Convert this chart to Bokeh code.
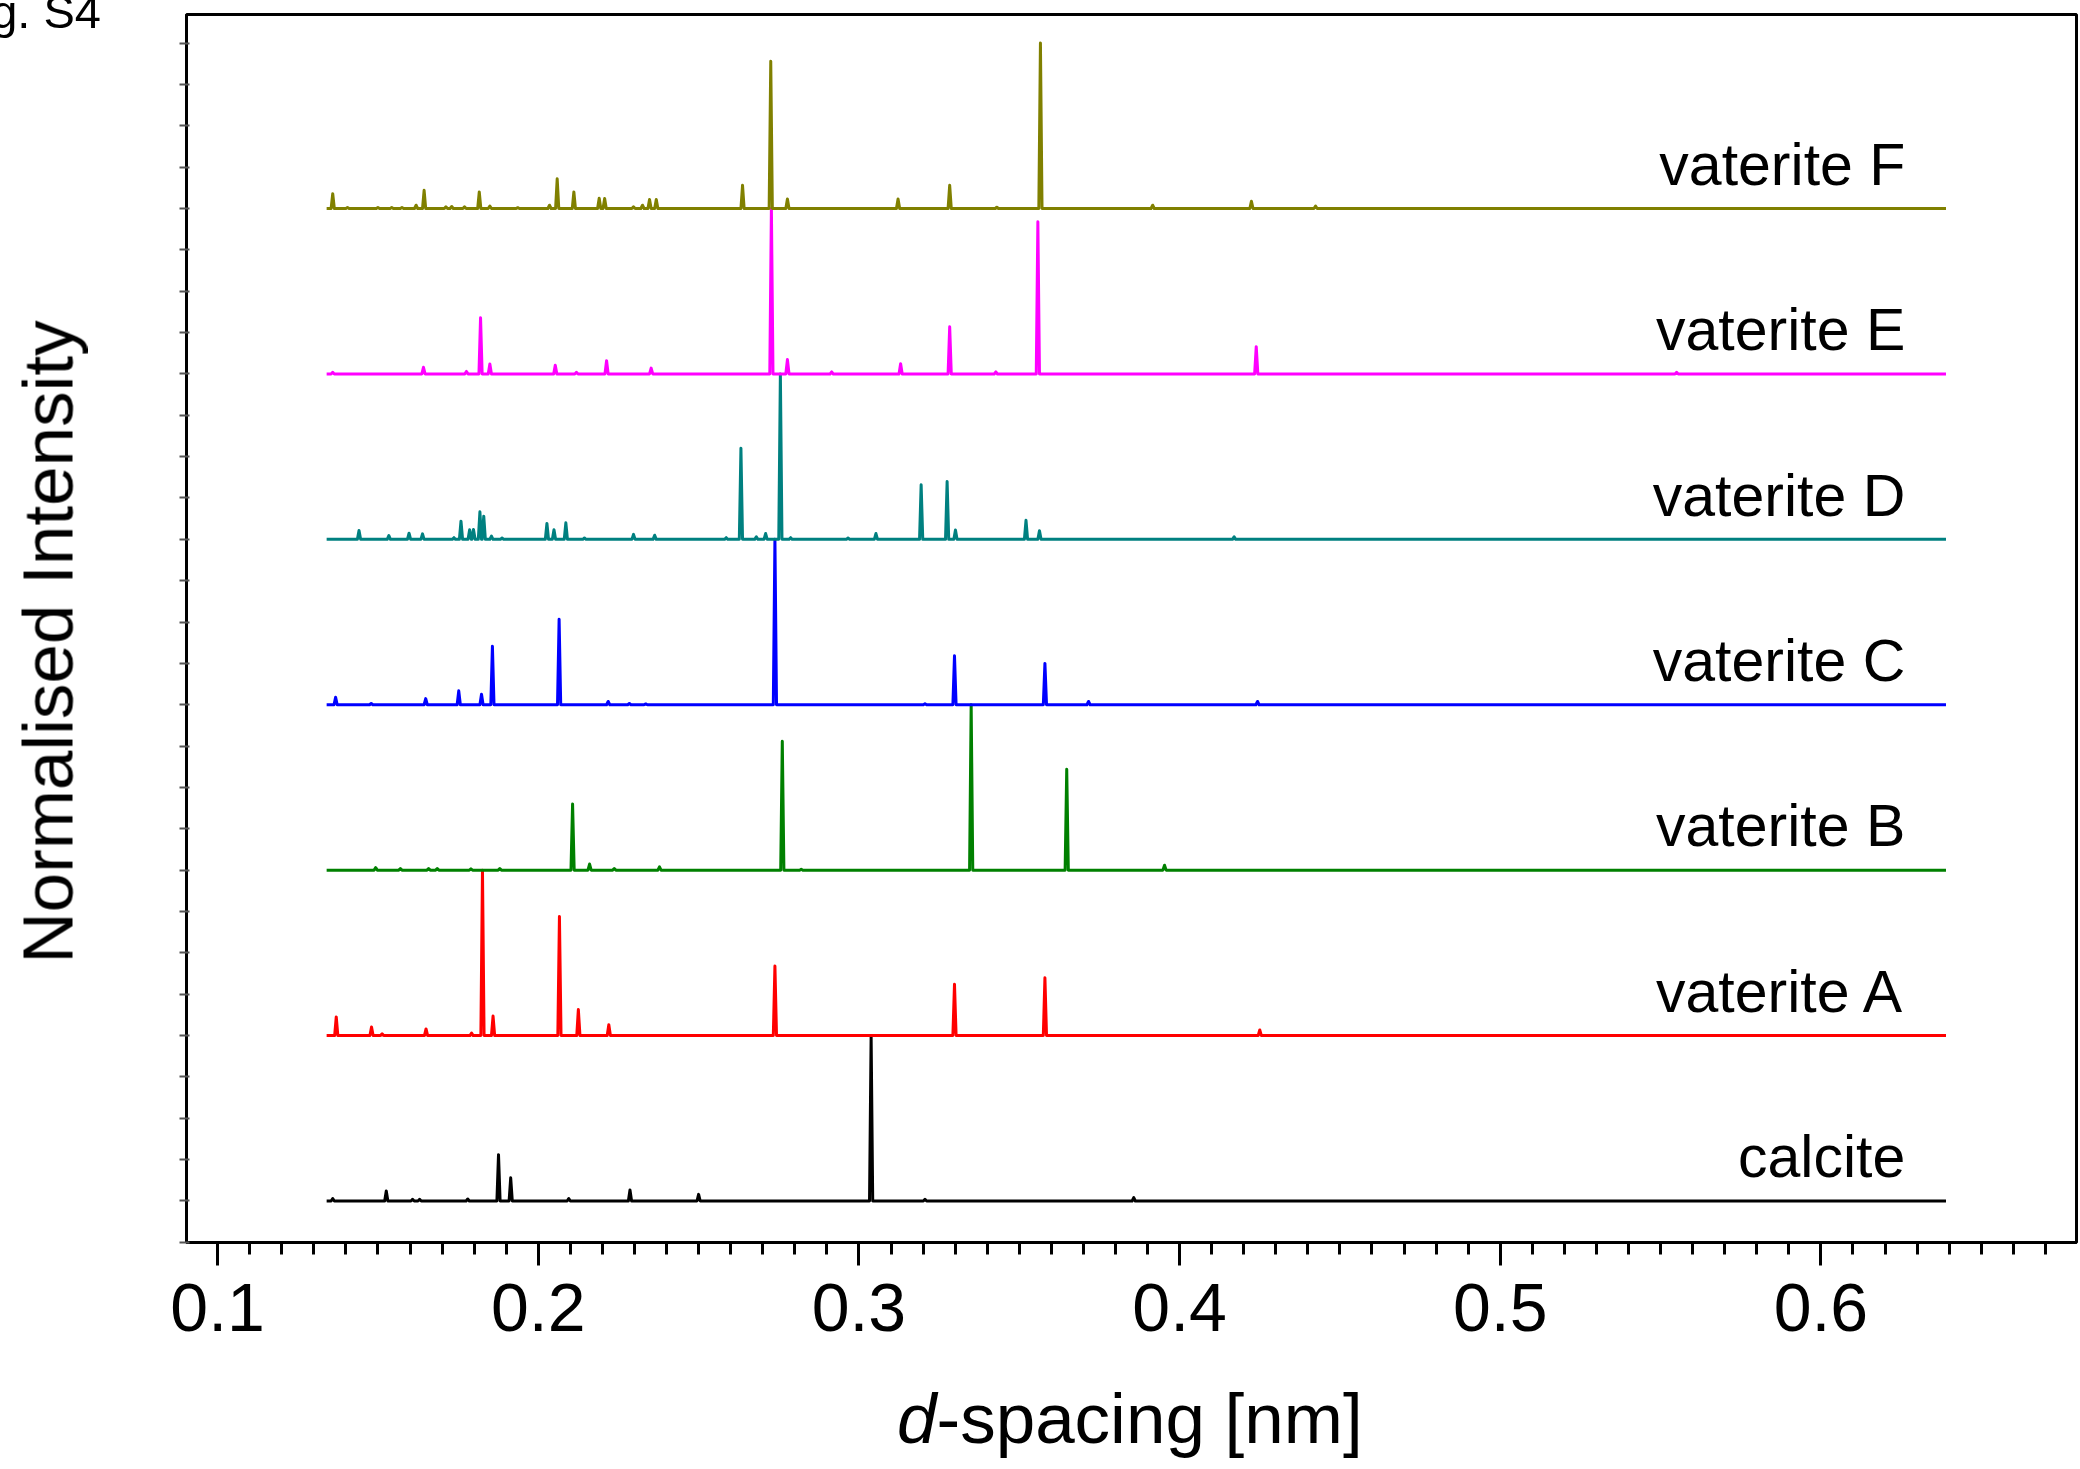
import numpy as np
from bokeh.plotting import figure
from bokeh.models import Range1d, SingleIntervalTicker, PrintfTickFormatter, Label, Div
from bokeh.layouts import column
from bokeh.embed import file_html
from bokeh.resources import INLINE

# ---------------- data ----------------
series_names = ["calcite", "vaterite A", "vaterite B", "vaterite C",
                "vaterite D", "vaterite E", "vaterite F"]
series_colors = ["#000000", "#ff0000", "#008000", "#0000ff",
                 "#008080", "#ff00ff", "#808000"]

calcite_d = [0.1359, 0.1526, 0.1608, 0.163, 0.178, 0.1876, 0.1914, 0.2095,
             0.2286, 0.250, 0.3038, 0.3206, 0.3857]
calcite_h = [0.015, 0.06, 0.01, 0.01, 0.012, 0.28, 0.14, 0.015,
             0.066, 0.04, 1.0, 0.01, 0.02]

vat_A_d = [0.137, 0.148, 0.1513, 0.165, 0.1792, 0.1826, 0.1859, 0.2066,
           0.2125, 0.222, 0.2738, 0.3298, 0.358, 0.425]
vat_A_h = [0.113, 0.052, 0.01, 0.04, 0.015, 1.0, 0.118, 0.72,
           0.157, 0.066, 0.42, 0.31, 0.35, 0.034]

vat_B_d = [0.1493, 0.157, 0.1658, 0.1685, 0.179, 0.188, 0.2107, 0.216,
           0.2237, 0.2378, 0.2761, 0.282, 0.335, 0.3648, 0.3953]
vat_B_h = [0.015, 0.01, 0.01, 0.01, 0.008, 0.01, 0.40, 0.037,
           0.01, 0.02, 0.78, 0.006, 1.0, 0.61, 0.03]

vat_C_d = [0.1368, 0.1479, 0.1649, 0.1752, 0.1823, 0.1857, 0.2065, 0.2218,
           0.2284, 0.2335, 0.2738, 0.3206, 0.3298, 0.358, 0.3716, 0.4243]
vat_C_h = [0.045, 0.008, 0.037, 0.084, 0.063, 0.354, 0.517, 0.02,
           0.008, 0.005, 1.0, 0.006, 0.296, 0.25, 0.02, 0.02]

vat_D_d = [0.1441, 0.1534, 0.1597, 0.1639, 0.1737, 0.1759, 0.1786, 0.1798,
           0.1818, 0.183, 0.1854, 0.1887, 0.2027, 0.2049, 0.2086, 0.2144,
           0.2297, 0.2363, 0.2586, 0.2632, 0.268, 0.2709, 0.2755, 0.2787,
           0.2966, 0.3053, 0.3194, 0.3275, 0.3301, 0.3521, 0.3563, 0.417]
vat_D_h = [0.054, 0.023, 0.037, 0.033, 0.01, 0.11, 0.058, 0.06,
           0.167, 0.14, 0.02, 0.008, 0.096, 0.058, 0.1, 0.008,
           0.03, 0.025, 0.01, 0.55, 0.015, 0.035, 1.0, 0.01,
           0.008, 0.035, 0.33, 0.35, 0.056, 0.115, 0.052, 0.015]

vat_E_d = [0.1359, 0.1642, 0.1776, 0.182, 0.1849, 0.2053, 0.2119, 0.2213,
           0.2352, 0.2727, 0.2777, 0.2915, 0.313, 0.3283, 0.3427, 0.3558,
           0.4239, 0.555]
vat_E_h = [0.01, 0.04, 0.015, 0.34, 0.06, 0.052, 0.01, 0.08,
           0.035, 1.0, 0.087, 0.012, 0.062, 0.285, 0.012, 0.92,
           0.165, 0.01]

vat_F_d = [0.1359, 0.1405, 0.15, 0.1543, 0.1575, 0.1619, 0.1644, 0.1712,
           0.173, 0.177, 0.1816, 0.1849, 0.1936, 0.2035, 0.2059, 0.2111,
           0.219, 0.2207, 0.2297, 0.2325, 0.2347, 0.2368, 0.2637, 0.2725,
           0.2777, 0.3122, 0.3283, 0.343, 0.3566, 0.3916, 0.4224, 0.4424]
vat_F_h = [0.09, 0.006, 0.006, 0.006, 0.006, 0.02, 0.11, 0.01,
           0.012, 0.01, 0.1, 0.015, 0.005, 0.02, 0.18, 0.1,
           0.062, 0.06, 0.01, 0.02, 0.054, 0.054, 0.14, 0.89,
           0.058, 0.058, 0.14, 0.008, 1.0, 0.02, 0.044, 0.015]

series_d = [calcite_d, vat_A_d, vat_B_d, vat_C_d, vat_D_d, vat_E_d, vat_F_d]
series_h = [calcite_h, vat_A_h, vat_B_h, vat_C_h, vat_D_h, vat_E_h, vat_F_h]

d_start, d_end = 0.134, 0.639   # measured extent of each pattern

# ---------------- figure ----------------
FONT = "Liberation Sans"
FIG_H = 1380
p = figure(width=2080, height=FIG_H, output_backend="svg", toolbar_location=None,
           x_range=Range1d(0.0903, 0.6797), y_range=Range1d(-0.251, 7.173),
           min_border_left=186, min_border_right=4, min_border_top=14,
           min_border_bottom=FIG_H - 1242)
p.grid.visible = False
p.outline_line_color = "black"
p.outline_line_width = 3
p.background_fill_color = "white"
p.border_fill_color = "white"

HALF = 0.0005
for i, (name, d, h, c) in enumerate(zip(series_names, series_d, series_h, series_colors)):
    xs = [d_start]
    ys = [i]
    for x, hh in sorted(zip(d, h)):
        xs += [x - HALF, x, x + HALF]
        ys += [i, i + hh, i]
    xs.append(d_end)
    ys.append(i)
    p.line(xs, ys, line_color=c, line_width=3, line_join="round")
    p.add_layout(Label(x=0.6263, y=i + 0.265, text=name, text_align="right",
                       text_baseline="alphabetic", text_font=FONT,
                       text_font_size="59px", text_color="black"))

# x axis
xa = p.xaxis[0]
xa.ticker = SingleIntervalTicker(interval=0.1, num_minor_ticks=10)
xa.formatter = PrintfTickFormatter(format="%.1f")
xa.major_label_text_font = FONT
xa.major_label_text_font_size = "68px"
xa.major_label_text_color = "black"
xa.major_label_standoff = 18
xa.major_tick_out = 23
xa.major_tick_in = 0
xa.minor_tick_out = 12
xa.minor_tick_in = 0
xa.major_tick_line_width = 3
xa.minor_tick_line_width = 3
xa.axis_line_width = 3
xa.axis_line_color = "black"
xa.major_tick_line_color = "black"
xa.minor_tick_line_color = "black"

# y axis (unlabelled ticks)
ya = p.yaxis[0]
ya.ticker = SingleIntervalTicker(interval=0.25, num_minor_ticks=0)
ya.major_label_text_font_size = "0px"
ya.major_label_standoff = 0
ya.major_tick_in = 3
ya.major_tick_out = 7
ya.major_tick_line_width = 2
ya.major_tick_line_color = "#555555"
ya.minor_tick_line_color = None
ya.axis_line_width = 3
ya.axis_line_color = "black"

# axis titles and the cut-off figure tag, as real HTML text placed on the page
SPAN = ("position:fixed;white-space:nowrap;font-family:'Liberation Sans';"
        "line-height:1;color:#000;margin:0;padding:0;")
html = (
    '<div style="position:relative;width:2080px;height:%dpx;">'
    '<span style="%sleft:897px;top:1383px;font-size:71px;">'
    '<i>d</i>-spacing [nm]</span>'
    '<span style="%sleft:-48px;top:-12px;font-size:47px;">Fig. S4</span>'
    '<span style="%sleft:48px;top:642px;font-size:71px;'
    'transform:translate(-50%%,-50%%) rotate(-90deg);transform-origin:50%% 50%%;">'
    'Normalised Intensity</span>'
    '</div>'
) % (1469 - FIG_H, SPAN, SPAN, SPAN)
xlab = Div(text=html, width=2080, height=1469 - FIG_H, margin=(0, 0, 0, 0))

layout = column(p, xlab, spacing=0)
open("out.html", "w").write(file_html(layout, INLINE))
